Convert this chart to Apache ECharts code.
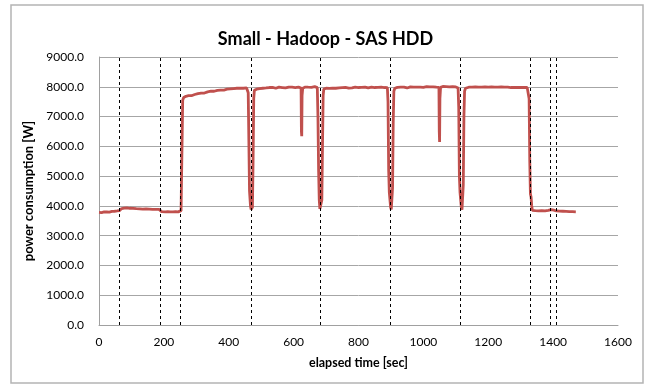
<!DOCTYPE html>
<html>
<head>
<meta charset="utf-8">
<script src="https://cdn.jsdelivr.net/npm/echarts@6/dist/echarts.min.js"></script>
<style>html,body{margin:0;padding:0;background:#fff;}#c{width:651px;height:387px;}</style>
</head>
<body>
<div id="c"></div>
<script>
var titleText = 'Small - Hadoop - SAS HDD';
var xAxisName = 'elapsed time [sec]';
var yAxisName = 'power consumption [W]';

var timeSec = [
0,4,8,12,16,20,24,28,32,36,40,44,48,52,56,60,63,
66,70,74,78,82,86,90,95,100,105,110,115,120,125,130,135,140,145,150,155,160,165,170,175,180,185,190,193,
198,205,212,220,228,236,244,250,253,255,258,261,
264,268,272,276,280,285,290,295,300,305,310,315,320,325,330,335,340,345,350,355,360,365,370,375,380,385,390,395,400,405,410,415,420,425,430,435,440,445,450,455,458,
460,462,464,465,467,469,471,473,475,477,479,482,486,
490,495,500,505,510,515,520,525,530,535,540,545,550,555,560,565,570,575,580,585,590,595,600,605,610,615,620,623,624,625,626,628,632,636,640,645,650,655,660,665,670,673,
675,677,679,681,683,685,687,689,691,693,697,
700,705,710,715,720,725,730,735,740,745,750,755,760,765,770,775,780,785,790,795,800,805,810,815,820,825,830,835,840,845,850,855,860,865,870,875,880,885,889,
891,893,895,897,899,901,903,905,907,909,912,
916,920,925,930,935,940,945,950,955,960,965,970,975,980,985,990,995,1000,1005,1010,1015,1020,1025,1030,1035,1040,1045,1048,1049,1050,1051,1053,1057,1060,1065,1070,1075,1080,1085,1090,1095,1100,1104,1107,
1109,1111,1113,1115,1117,1119,1121,1123,1125,1127,1130,
1135,1140,1145,1150,1155,1160,1165,1170,1175,1180,1185,1190,1195,1200,1205,1210,1215,1220,1225,1230,1235,1240,1245,1250,1255,1260,1265,1270,1275,1280,1285,1290,1295,1300,1305,1310,1315,1320,1324,
1326,1328,1330,1332,1334,1336,1340,1345,1350,1355,1360,1365,1370,1375,1380,1385,1390,1394,1398,1402,1406,1410,1415,1420,1425,1430,1435,1440,1445,1450,1455,1460,1465,1470
];
var powerW = [
3780,3790,3775,3785,3800,3780,3795,3810,3790,3800,3815,3805,3820,3810,3830,3825,3840,
3890,3910,3900,3925,3910,3930,3905,3920,3900,3915,3925,3905,3915,3900,3910,3890,3905,3895,3910,3890,3900,3880,3895,3880,3870,3880,3860,3810,
3800,3800,3805,3800,3800,3805,3800,3810,3840,3900,7550,7640,
7660,7680,7670,7700,7710,7700,7730,7740,7750,7770,7760,7790,7800,7790,7820,7830,7820,7850,7860,7850,7870,7880,7870,7890,7900,7890,7910,7920,7910,7930,7920,7940,7930,7950,7940,7950,7960,7950,7970,7960,7960,
7800,6200,4500,4450,4000,3880,3860,3950,5500,7600,7880,7900,7920,
7950,7940,7960,7950,7970,7960,7950,7975,7960,7980,7965,7950,7975,7990,7960,7975,7985,7960,7980,7990,7970,7985,7995,7975,7980,7990,7970,7960,6500,6340,7700,7950,7980,7990,7970,7985,8000,7980,7995,8005,7985,7970,
7000,5200,4200,3900,3880,3890,4200,6000,7700,7920,7940,
7950,7960,7945,7970,7955,7965,7950,7975,7960,7950,7970,7960,7980,7965,7955,7975,7960,7970,7985,7960,7975,7960,7980,7965,7990,7970,7960,7975,7985,7965,7975,7960,7980,7970,7985,7965,7975,7960,7970,
7500,5200,4450,4400,3950,3880,3900,4600,6800,7850,7950,
7960,7980,7965,7985,7970,7990,7975,7960,7985,7995,7970,7985,7975,7990,7970,7985,8000,7980,7990,8005,7985,7995,7980,8000,7990,7985,7995,7980,6500,6150,7600,7980,7995,8010,7990,8005,7985,8000,7990,8005,7985,7995,7980,7960,
7300,5000,4450,4400,3950,3870,3900,4700,7000,7850,7950,
7970,7985,7960,7990,7975,7995,7970,7985,7965,7990,7980,8000,7975,7990,7980,7995,7970,7985,7975,7990,7980,7995,7975,7985,7970,7990,7980,7975,7990,7980,7985,7975,7990,7980,7985,7975,7985,7980,7970,
7600,5500,4400,4300,4000,3850,3830,3840,3825,3835,3830,3840,3825,3835,3840,3850,3860,3875,3850,3860,3840,3830,3840,3825,3830,3820,3830,3815,3825,3810,3820,3805,3815,3800
];
var markerTimes = [63,190,249,468,681,897,1114,1330,1392,1410];
var yTicks = [0,1000,2000,3000,4000,5000,6000,7000,8000,9000];
var xTicks = [0,200,400,600,800,1000,1200,1400,1600];

var pts = timeSec.map(function(t,i){return [t, powerW[i]];});
var font = 'Lato, "Open Sans", sans-serif';

var chart = echarts.init(document.getElementById('c'), null, {renderer:'canvas'});
chart.setOption({
  animation:false,
  backgroundColor:'#ffffff',
  title:{text:titleText, left:'center', top:25, textStyle:{fontFamily:font, fontWeight:'bold', fontSize:18, color:'#000'}},
  grid:{left:99, right:33, top:57, bottom:62},
  xAxis:{type:'value', min:xTicks[0], max:xTicks[xTicks.length-1], interval:200,
    name:xAxisName, nameLocation:'middle', nameGap:31,
    nameTextStyle:{fontFamily:font, fontWeight:'bold', fontSize:12.5, color:'#000'},
    axisLine:{show:true, lineStyle:{color:'#a0a0a0', width:1}},
    axisTick:{show:false}, splitLine:{show:false},
    axisLabel:{fontFamily:font, fontSize:12, color:'#000', margin:11,
      formatter:function(v){return String(v);}}},
  yAxis:{type:'value', min:yTicks[0], max:yTicks[yTicks.length-1], interval:1000,
    name:yAxisName, nameLocation:'middle', nameGap:47,
    nameTextStyle:{fontFamily:font, fontWeight:'bold', fontSize:13, color:'#000'},
    axisLine:{show:true, lineStyle:{color:'#a0a0a0', width:1}},
    axisTick:{show:false},
    splitLine:{show:true, lineStyle:{color:'#a6a6a6', width:1}},
    axisLabel:{fontFamily:font, fontSize:12, color:'#000', margin:15,
      formatter:function(v){return v.toFixed(1);}}},
  graphic:[{type:'rect', shape:{x:11, y:5, width:632, height:378}, style:{fill:'none', stroke:'#b4b4b4', lineWidth:1.5}, z:-1}],
  series:[{
    type:'line', data:pts, showSymbol:false, symbol:'none',
    lineStyle:{color:'#c0504d', width:2.8}, itemStyle:{color:'#c0504d'},
    markLine:{silent:true, symbol:['none','none'], label:{show:false},
      lineStyle:{color:'#000', type:[3,3], width:1},
      data:markerTimes.map(function(t){return {xAxis:t};})},
    z:3
  }]
});
</script>
</body>
</html>
